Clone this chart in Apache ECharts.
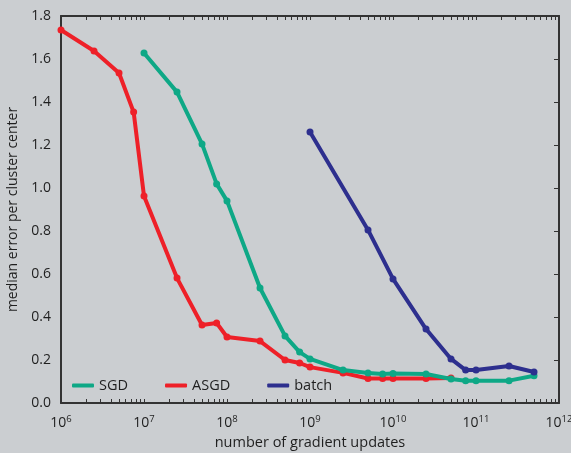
<!DOCTYPE html>
<html><head><meta charset="utf-8">
<script src="https://cdn.jsdelivr.net/npm/echarts@6/dist/echarts.min.js"></script>
<style>html,body{margin:0;padding:0;background:#cbced1;}#c{width:571px;height:453px;}</style>
</head><body><div id="c"></div>
<script>
const sgdX = [1e7,2.5e7,5e7,7.5e7,1e8,2.5e8,5e8,7.5e8,1e9,2.5e9,5e9,7.5e9,1e10,2.5e10,5e10,7.5e10,1e11,2.5e11,5e11];
const sgdY = [1.628,1.446,1.205,1.019,0.94,0.535,0.312,0.237,0.205,0.153,0.14,0.135,0.137,0.135,0.112,0.104,0.104,0.104,0.127];
const asgdX = [1e6,2.5e6,5e6,7.5e6,1e7,2.5e7,5e7,7.5e7,1e8,2.5e8,5e8,7.5e8,1e9,2.5e9,5e9,7.5e9,1e10,2.5e10,5e10];
const asgdY = [1.735,1.637,1.535,1.353,0.963,0.581,0.363,0.372,0.307,0.288,0.200,0.186,0.167,0.140,0.114,0.114,0.114,0.114,0.116];
const batchX = [1e9,5e9,1e10,2.5e10,5e10,7.5e10,1e11,2.5e11,5e11];
const batchY = [1.26,0.805,0.577,0.344,0.205,0.153,0.153,0.172,0.144];
const xTickExps = [6,7,8,9,10,11,12];
const yTicks = [0,0.2,0.4,0.6,0.8,1.0,1.2,1.4,1.6,1.8];
const minorMult = [2,3,4,5,6,7,8,9];

const FONT = 'Open Sans';
const TXT = '#1f1f1f';
const AX = '#333333';
const tickPos = [];
xTickExps.forEach((e, i) => {
  tickPos.push(e);
  if (i < xTickExps.length - 1) minorMult.forEach(m => tickPos.push(e + Math.log10(m)));
});
const pair = (xs, ys) => xs.map((x, i) => [x, ys[i]]);

const chart = echarts.init(document.getElementById('c'));
const lineSeries = (name, xs, ys, color, z) => ({
  name, type: 'line', xAxisIndex: 0, yAxisIndex: 0, data: pair(xs, ys),
  symbol: 'circle', symbolSize: 7, z,
  lineStyle: { color, width: 4 }, itemStyle: { color },
  emphasis: { disabled: true }, animation: false
});
chart.setOption({
  backgroundColor: '#cbced1',
  textStyle: { fontFamily: FONT },
  grid: { left: 61, right: 12, top: 16, bottom: 50, outerBoundsMode: 'none', containLabel: false },
  legend: {
    left: 67, top: 373, icon: 'roundRect', itemWidth: 22, itemHeight: 4, itemGap: 37,
    textStyle: { fontFamily: FONT, fontSize: 14.5, color: TXT },
    data: ['SGD', 'ASGD', 'batch']
  },
  xAxis: [
    { type: 'log', min: 1e6, max: 1e12, show: false },
    { type: 'value', min: 6, max: 12, interval: 1, position: 'bottom',
      axisLine: { show: true, lineStyle: { color: AX, width: 2 } },
      axisTick: { show: true, inside: true, length: 4, customValues: tickPos, lineStyle: { color: AX, width: 1 } },
      splitLine: { show: false },
      axisLabel: { margin: 11, customValues: xTickExps, formatter: v => '{b|10}{s|' + v + '}',
        rich: { b: { fontSize: 14, color: TXT, fontFamily: FONT }, s: { fontSize: 9.5, color: TXT, fontFamily: FONT, padding: [0, 0, 8, 0] } } },
      name: 'number of gradient updates', nameLocation: 'middle', nameGap: 30,
      nameTextStyle: { fontSize: 14.5, color: TXT, fontFamily: FONT }
    },
    { type: 'value', min: 6, max: 12, interval: 1, position: 'top',
      axisLine: { show: true, lineStyle: { color: AX, width: 2 } },
      axisTick: { show: true, inside: true, length: 4, customValues: tickPos, lineStyle: { color: AX, width: 1 } },
      splitLine: { show: false }, axisLabel: { show: false }
    }
  ],
  yAxis: [
    { type: 'value', min: 0, max: 1.8, interval: 0.2, position: 'left',
      axisLine: { show: true, lineStyle: { color: AX, width: 2 } },
      axisTick: { show: false }, splitLine: { show: false },
      axisLabel: { margin: 10, fontSize: 14, color: TXT, fontFamily: FONT, customValues: yTicks, formatter: v => v.toFixed(1) },
      name: 'median error per cluster center', nameLocation: 'middle', nameGap: 40,
      nameTextStyle: { fontSize: 14, color: TXT, fontFamily: FONT }
    },
    { type: 'value', min: 0, max: 1.8, interval: 0.2, position: 'right',
      axisLine: { show: true, lineStyle: { color: AX, width: 2 } },
      axisTick: { show: true, inside: true, length: 5, lineStyle: { color: AX, width: 1 } },
      splitLine: { show: false }, axisLabel: { show: false }
    }
  ],
  series: [
    lineSeries('SGD', sgdX, sgdY, '#0ea886', 4),
    lineSeries('ASGD', asgdX, asgdY, '#ee2028', 3),
    lineSeries('batch', batchX, batchY, '#2d2f8e', 5)
  ]
});
</script></body></html>
